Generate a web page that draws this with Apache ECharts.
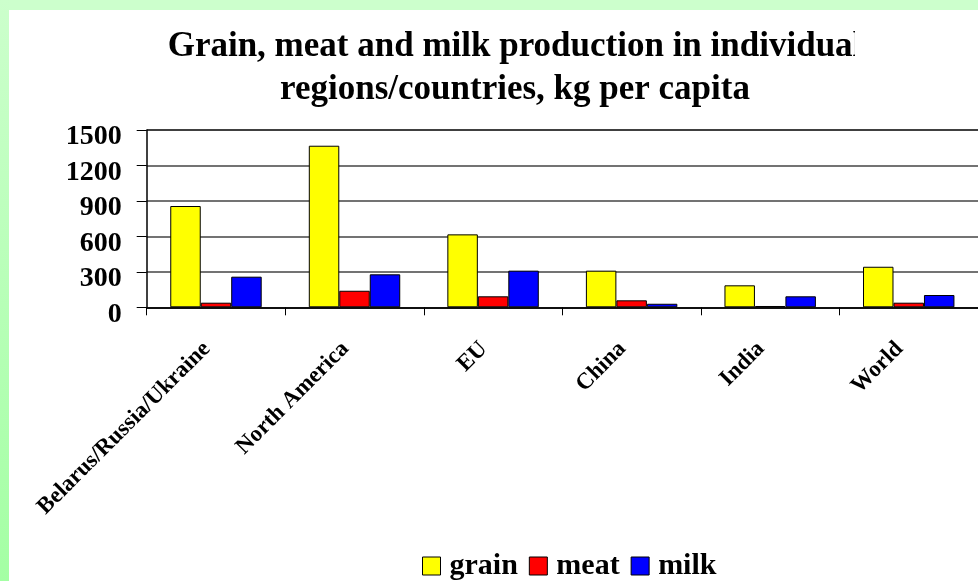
<!DOCTYPE html>
<html>
<head>
<meta charset="utf-8">
<script src="https://cdn.jsdelivr.net/npm/echarts@6/dist/echarts.min.js"></script>
<style>html,body{margin:0;padding:0;background:#ccffcc;}#c{width:978px;height:581px;}</style>
</head>
<body>
<div id="c"></div>
<script>
const categories = ['Belarus/Russia/Ukraine', 'North America', 'EU', 'China', 'India', 'World'];
const grain = [857, 1367, 617, 310, 186, 343];
const meat = [39, 140, 93, 59, 11, 39];
const milk = [259, 279, 310, 30, 93, 104];
const yTicks = [0, 300, 600, 900, 1200, 1500];

const FONT = '"Liberation Serif", "Times New Roman", serif';
const chart = echarts.init(document.getElementById('c'), null, {renderer: 'canvas'});
const bar = (name, data, color) => ({
  name, type: 'bar', data,
  barGap: 0, barCategoryGap: '34%',
  itemStyle: {color, borderColor: '#000', borderWidth: 1},
  emphasis: {disabled: true}
});
chart.setOption({
  animation: false,
  backgroundColor: '#ccffcc',
  graphic: [
    {type: 'rect', z: -10, shape: {x: 0, y: 0, width: 9, height: 581},
      style: {fill: new echarts.graphic.LinearGradient(0, 0, 0, 1, [{offset: 0, color: '#ccffcc'}, {offset: 1, color: '#a4ffa4'}])}},
    {type: 'rect', z: -10, shape: {x: 9, y: 10, width: 969, height: 571}, style: {fill: '#ffffff'}},
    {type: 'rect', z: 100, shape: {x: 855, y: 24, width: 20, height: 40}, style: {fill: '#ffffff'}}
  ],
  title: {
    text: 'Grain, meat and milk production in individual\nregions/countries, kg per capita',
    left: 510, top: 20, textAlign: 'center',
    textStyle: {fontFamily: FONT, fontWeight: 'bold', fontSize: 35, lineHeight: 43, color: '#000'}
  },
  legend: {
    data: ['grain', 'meat', 'milk'],
    left: 422, top: 551, padding: 0,
    itemWidth: 18, itemHeight: 18, itemGap: 11,
    icon: 'rect',
    itemStyle: {borderColor: '#000', borderWidth: 1},
    textStyle: {fontFamily: FONT, fontWeight: 'bold', fontSize: 30, lineHeight: 30, color: '#000', padding: [0, 0, 0, 4]}
  },
  grid: {left: 146.7, top: 130, width: 836, height: 177.3, containLabel: false},
  xAxis: {
    type: 'category', data: categories,
    axisLine: {lineStyle: {color: '#000', width: 1.5}},
    axisTick: {show: true, length: 8, lineStyle: {color: '#000', width: 1}},
    axisLabel: {rotate: 45, margin: 29, interval: 0, fontFamily: FONT, fontWeight: 'bold', fontSize: 23, color: '#000', padding: [0, 13, 0, 0]}
  },
  yAxis: {
    type: 'value', min: 0, max: 1500, interval: 300,
    axisLine: {show: true, lineStyle: {color: '#000', width: 1.5}},
    axisTick: {show: true, length: 10, lineStyle: {color: '#000', width: 1}},
    axisLabel: {margin: 25, fontFamily: FONT, fontWeight: 'bold', fontSize: 28, color: '#000',
      verticalAlign: 'top', lineHeight: 14, formatter: v => String(v)},
    splitLine: {show: true, lineStyle: {color: ['#000', '#444', '#444', '#444', '#444', '#000'], width: 1.5}}
  },
  series: [bar('grain', grain, '#ffff00'), bar('meat', meat, '#ff0000'), bar('milk', milk, '#0000ff')]
});
</script>
</body>
</html>
